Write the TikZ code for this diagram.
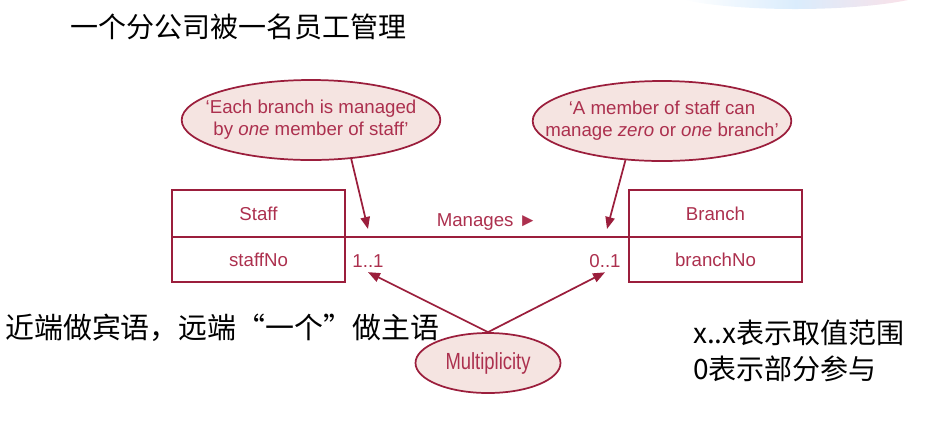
\documentclass[tikz,border=0pt]{standalone}
\usepackage{fontspec}
\setmainfont{Liberation Sans}
\newfontfamily\cjk{Noto Sans CJK SC}
\newfontfamily\narrowsans[FakeStretch=0.79]{Liberation Sans}
\usetikzlibrary{arrows.meta,positioning,shapes.geometric}
\definecolor{ErMaroon}{RGB}{155,30,60}
\definecolor{ErText}{RGB}{172,48,78}
\definecolor{ErFill}{RGB}{245,228,225}
\definecolor{SwooshBlue}{RGB}{218,236,252}
\definecolor{SwooshPink}{RGB}{250,225,232}
\tikzset{
  entityhead/.style={draw=ErMaroon,line width=1.3pt,minimum width=129.75pt,
    minimum height=35.25pt,inner sep=0pt,outer sep=0pt,text=ErText,
    font=\fontsize{14}{16}\selectfont},
  entityattr/.style={entityhead,minimum height=33.75pt},
  callout/.style={ellipse,draw=ErMaroon,fill=ErFill,line width=1.3pt,
    minimum width=194pt,minimum height=60pt,inner xsep=-20pt,inner ysep=0pt,
    align=center,text=ErText,font=\fontsize{14}{16.5}\selectfont},
  multlabel/.style={text=ErText,font=\fontsize{14}{16}\selectfont},
  pointer/.style={-{Triangle[length=9pt,width=7pt]},line width=1.3pt,ErMaroon},
  remark/.style={anchor=west,inner sep=0pt,font=\cjk\fontsize{21}{26}\selectfont}
}
\begin{document}
\begin{tikzpicture}[x=0.75pt,y=-0.75pt]
  \useasboundingbox (0,0) rectangle (927,430);
  % slide decoration, top right
  \shade[left color=white,right color=SwooshPink,middle color=SwooshBlue]
    (684,0) .. controls (740,12) and (850,12) .. (908,0) -- cycle;
  % remarks
  \node[remark] (title) at (70,27) {一个分公司被一名员工管理};
  \node[remark,font=\cjk\fontsize{21.7}{26}\selectfont] (nearfar) at (5,328) {近端做宾语，远端“一个”做主语};
  \node[remark] (range) at (693,333) {x..x表示取值范围};
  \node[remark] (partial) at (693,369) {0表示部分参与};
  % entities
  \node[entityhead] (staff) at (258.5,213.5) {Staff};
  \node[entityattr,below=0pt of staff] (staffNo) {staffNo};
  \node[entityhead] (branch) at (715.5,213.5) {Branch};
  \node[entityattr,below=0pt of branch] (branchNo) {branchNo};
  % relationship
  \draw[ErMaroon,line width=1.3pt] (staff.south east) --
    node[above=1pt,multlabel] (manages) {Manages ►} (branch.south west);
  \node[multlabel] (staffmult) at (368,261) {1..1};
  \node[multlabel] (branchmult) at (605,261) {0..1};
  \coordinate (staffend) at (368,229);
  \coordinate (branchend) at (607,229);
  % callouts
  \node[callout] (onestaff) at (311,120) {‘Each branch is managed\\by \emph{one} member of staff’};
  \node[callout] (onebranch) at (662,121) {‘A member of staff can\\manage \emph{zero} or \emph{one} branch’};
  \node[callout,minimum width=108.75pt,minimum height=45pt,inner sep=0pt,
    font=\narrowsans\fontsize{17.5}{20}\selectfont] (mult) at (488,363) {Multiplicity};
  \draw[pointer] (onestaff.-44) -- (staffend);
  \draw[pointer] (onebranch.-133) -- (branchend);
  \draw[pointer] (mult.north) -- (staffmult.south);
  \draw[pointer] (mult.north) -- (branchmult.south);
\end{tikzpicture}
\end{document}
